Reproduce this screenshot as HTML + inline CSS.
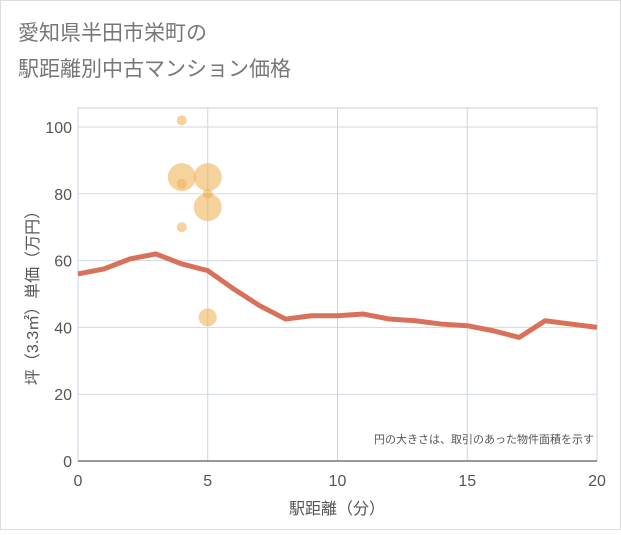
<!DOCTYPE html>
<html><head><meta charset="utf-8"><style>
body{margin:0;background:#fff;}
svg text{font-family:"Liberation Sans","Noto Sans CJK JP",sans-serif;}
</style></head><body>
<svg width="621" height="530" xmlns="http://www.w3.org/2000/svg">
<rect x="0.5" y="0.5" width="620" height="529" fill="#fff" stroke="#ddd"/>
<text x="18" y="40" font-size="21" fill="#777">愛知県半田市栄町の</text>
<text x="18" y="76" font-size="21" fill="#777">駅距離別中古マンション価格</text>
<g id="grid"></g>
<g id="bubbles"></g>
<path id="line" fill="none" stroke="#d9705a" stroke-width="5" stroke-linejoin="round"/>
<g id="ticks"></g>
<text x="594" y="443" font-size="11" fill="#555" text-anchor="end">円の大きさは、取引のあった物件面積を示す</text>
<text x="337" y="514" font-size="16" fill="#555" text-anchor="middle">駅距離（分）</text>
<text transform="translate(38,294) rotate(-90)" font-size="16" fill="#555" text-anchor="middle">坪（3.3㎡）単価（万円）</text>
</svg>
<script>
const lineX=[0,1,2,3,4,5,6,7,8,9,10,11,12,13,14,15,16,17,18,19,20];
const lineY=[56,57.5,60.5,62,59,57,51.5,46.5,42.5,43.5,43.5,44,42.5,42,41,40.5,39,37,42,41,40];
const bubbleX=[4,4,4,4,5,5,5,5];
const bubbleY=[102,85,83,70,85,80,76,43];
const bubbleR=[5,14,5,5,14,5,14,9];
const xTicks=[0,5,10,15,20];
const yTicks=[0,20,40,60,80,100];
const ns="http://www.w3.org/2000/svg";
const X=v=>78+v*(597-78)/20, Y=v=>461-v*3.34;
function mk(t,a,p){const e=document.createElementNS(ns,t);for(const k in a)e.setAttribute(k,a[k]);p.appendChild(e);return e;}
const g=document.getElementById('grid'),tk=document.getElementById('ticks');
const frame=mk('rect',{x:78,y:108,width:519,height:353,fill:'none',stroke:'#ccc'},g);


yTicks.forEach(v=>{
 const l=mk('line',{x1:78,x2:597,y1:Y(v),y2:Y(v),stroke:'#d0dae6'},g);
 
 
 const t=mk('text',{x:72,y:Y(v)+6,'font-size':16,fill:'#555','text-anchor':'end'},tk);t.textContent=v;
 
 
});
xTicks.forEach(v=>{
 const l=mk('line',{y1:108,y2:461,x1:X(v),x2:X(v),stroke:'#c8d6e6'},g);
 
 
 const t=mk('text',{x:X(v),y:486,'font-size':16,fill:'#555','text-anchor':'middle'},tk);t.textContent=v;
 
 
});
const ax=mk('line',{x1:78,x2:597,y1:461,y2:461,stroke:'#333'},g);


const bg=document.getElementById('bubbles');
bubbleX.forEach((v,i)=>{
 const c=mk('circle',{cx:X(v),cy:Y(bubbleY[i]),r:bubbleR[i],fill:'rgba(240,180,90,0.6)'},bg);
 
 
});
document.getElementById('line').setAttribute('d',lineX.map((v,i)=>(i?'L':'M')+X(v)+','+Y(lineY[i])).join(''));
</script>
</body></html>
